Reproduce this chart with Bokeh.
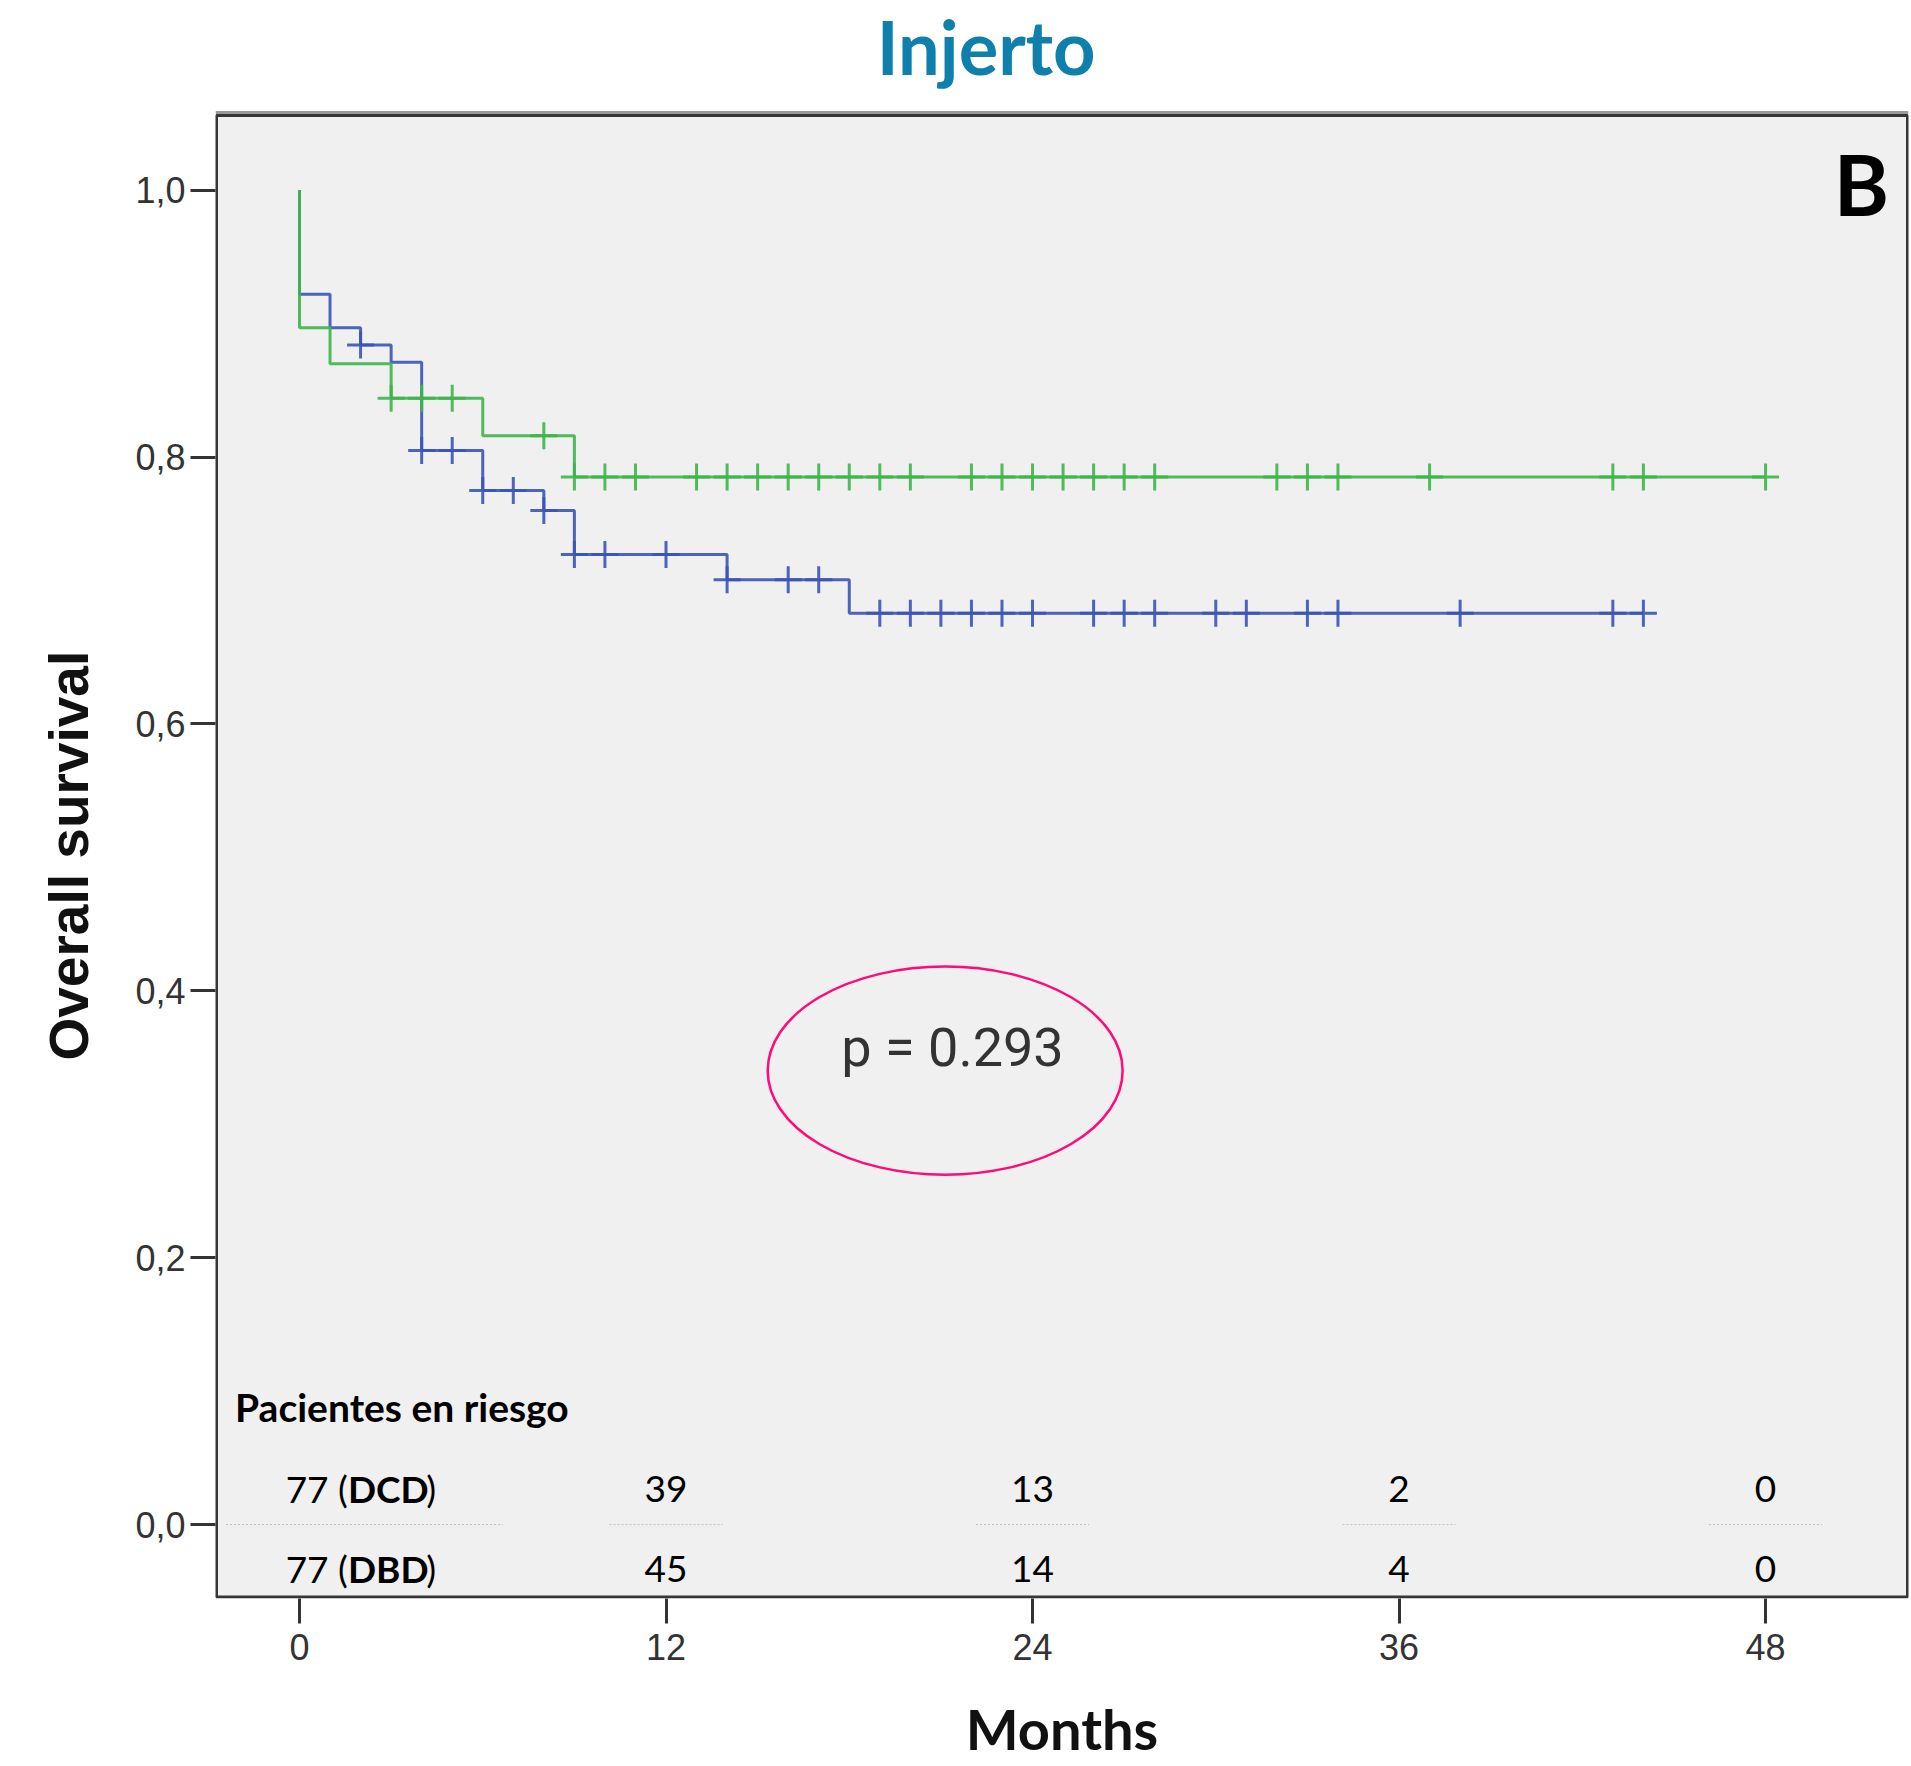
import numpy as np
from bokeh.plotting import figure
from bokeh.models import Range1d, FixedTicker, Label, Title
from bokeh.core.properties import value
from bokeh.embed import file_html
from bokeh.resources import INLINE

# ---------------- data ----------------
blue_event_times = [0, 1, 2, 3, 4, 6, 8, 9, 14, 18]
blue_survival = [0.922, 0.897, 0.884, 0.871, 0.805, 0.775, 0.760, 0.727, 0.708, 0.683]
blue_censor_times = [2, 4, 5, 6, 7, 8, 9, 10, 12, 14, 16, 17, 19, 20, 21, 22, 23, 24,
                     26, 27, 28, 30, 31, 33, 34, 38, 43, 44]
blue_end = 44

green_event_times = [0, 1, 3, 6, 9]
green_survival = [0.897, 0.870, 0.844, 0.816, 0.785]
green_censor_times = [3, 4, 5, 8, 9, 10, 11, 13, 14, 15, 16, 17, 18, 19, 20, 22, 23, 24,
                      25, 26, 27, 28, 32, 33, 34, 37, 43, 44, 48]
green_end = 48

x_ticks = [0, 12, 24, 36, 48]
y_ticks = [0.0, 0.2, 0.4, 0.6, 0.8, 1.0]
y_tick_labels = ["0,0", "0,2", "0,4", "0,6", "0,8", "1,0"]

risk_title = "Pacientes en riesgo"
risk_groups = ["DCD", "DBD"]
risk_start = [77, 77]
risk_times = [12, 24, 36, 48]
risk_counts = [[39, 13, 2, 0],   # DCD
               [45, 14, 4, 0]]   # DBD

title_text = "Injerto"
y_label = "Overall survival"
x_label = "Months"
p_text = "p = 0.293"
panel_letter = "B"

# ---------------- styling ----------------
GREEN = "#3db54a"
BLUE = "#3a54b4"
TITLE_COLOR = "#0f7fab"
PINK = "#ff0a78"

X0, X1 = -2.75, 52.68          # plotting box (data units)
Y0, Y1 = -0.0554, 1.056
PX_PER_Y = 1335.2
PX_PER_X = 30.54

# the frame reaches the top of the canvas so that the title can be drawn in it;
# the grey plotting box is drawn as a quad below
p = figure(width=1910, height=1764,
           x_range=Range1d(X0, X1), y_range=Range1d(Y0, Y0 + 1599 / PX_PER_Y),
           output_backend="svg", toolbar_location=None,
           min_border_left=215, min_border_right=2,
           min_border_top=0, min_border_bottom=165)

p.background_fill_color = "white"
p.border_fill_color = "white"
p.outline_line_color = None
p.grid.visible = False

# plotting box
inset_x = 1.0 / PX_PER_X
inset_y = 1.5 / PX_PER_Y
p.quad(left=[X0 + inset_x], right=[X1 - inset_x], bottom=[Y0 + inset_y], top=[Y1],
       fill_color="#f0f0f0", line_color="#363636", line_width=3, level="underlay")
# soft shadow on the top edge
p.segment(x0=[X0], y0=[Y1 + 3 / PX_PER_Y], x1=[X1], y1=[Y1 + 3 / PX_PER_Y],
          line_color="#9a9a9a", line_width=3, level="underlay")

# axes
for ax in (p.xaxis[0], p.yaxis[0]):
    ax.axis_line_color = None
    ax.major_tick_out = 25
    ax.major_tick_in = 0
    ax.minor_tick_out = 0
    ax.minor_tick_in = 0
    ax.major_tick_line_width = 3
    ax.major_tick_line_color = "#333333"
    ax.major_label_text_font = "Liberation Sans"
    ax.major_label_text_font_size = "36px"
    ax.major_label_text_color = "#333333"

p.xaxis.ticker = FixedTicker(ticks=x_ticks)
p.xaxis.major_label_standoff = 10
p.xaxis.axis_label = x_label
p.xaxis.axis_label_text_font = "Lato"
p.xaxis.axis_label_text_font_style = "bold"
p.xaxis.axis_label_text_font_size = "56px"
p.xaxis.axis_label_text_color = "#111111"
p.xaxis.axis_label_standoff = 32

p.yaxis.ticker = FixedTicker(ticks=y_ticks)
p.yaxis.major_label_overrides = {t: s for t, s in zip(y_ticks, y_tick_labels)}
p.yaxis.major_label_standoff = 5

# y label as a left-side title so it can be centred on the plotting box
p.add_layout(Title(text=y_label, align="left", offset=538, vertical_align="bottom",
                   standoff=65, text_font="Liberation Sans", text_font_style="bold",
                   text_font_size="55px", text_color="#111111"), "left")


def step_xy(times, surv, end):
    xs = [0.0] + list(times) + [end]
    ys = [1.0] + list(surv) + [surv[-1]]
    return xs, ys


def censor_y(times, surv, ctimes):
    idx = np.searchsorted(np.array(times, dtype=float), np.array(ctimes, dtype=float), side="right") - 1
    s = np.array(surv)
    return [1.0 if i < 0 else float(s[i]) for i in idx]


for times, surv, end, ctimes, col in [
    (blue_event_times, blue_survival, blue_end, blue_censor_times, BLUE),
    (green_event_times, green_survival, green_end, green_censor_times, GREEN),
]:
    xs, ys = step_xy(times, surv, end)
    p.step(xs, ys, mode="after", line_color=col, line_width=3, line_alpha=0.9)
    p.scatter(ctimes, censor_y(times, surv, ctimes), marker="cross", size=27,
              line_color=col, line_width=3, line_alpha=0.9)

# title
p.text(x=[22.48], y=[1.1077], text=[title_text], text_font=value("Lato"),
       text_font_style="bold", text_font_size="74px", text_color=TITLE_COLOR,
       text_align="center", text_baseline="middle")

# p-value and ellipse
p.ellipse(x=[21.14], y=[0.3402], width=[11.62], height=[0.156],
          fill_color=None, line_color=PINK, line_width=2.5)
p.text(x=[21.38], y=[0.3573], text=[p_text], text_font=value("Roboto"),
       text_font_size="54px", text_color="#333333", text_align="center",
       text_baseline="middle")

# panel letter
p.add_layout(Label(x=52.04, y=1.005, text=panel_letter, text_font="Lato",
                   text_font_style="bold", text_font_size="84px", text_color="black",
                   text_align="right", text_baseline="middle"))

# risk table
row_y = [0.0270, -0.0330]
p.text(x=[-2.11], y=[0.0880], text=[risk_title], text_font=value("Lato"),
       text_font_style="bold", text_font_size="39px", text_color="black",
       text_align="left", text_baseline="middle")
for g, n0, counts, yy in zip(risk_groups, risk_start, risk_counts, row_y):
    p.text(x=[1.585], y=[yy], text=[f"{n0} ("], text_font=value("Lato"),
           text_font_size="37px", text_color="black", text_align="right",
           text_baseline="middle")
    p.text(x=[1.585], y=[yy], text=[g], text_font=value("Lato"), text_font_style="bold",
           text_font_size="37px", text_color="black", text_align="left",
           text_baseline="middle")
    p.text(x=[4.15], y=[yy], text=[")"], text_font=value("Lato"),
           text_font_size="37px", text_color="black", text_align="left",
           text_baseline="middle")
    p.text(x=risk_times, y=[yy] * len(risk_times), text=[str(c) for c in counts],
           text_font=value("Lato"), text_font_size="37px", text_color="black",
           text_align="center", text_baseline="middle")

# dotted separators between the two rows
sep_x0 = [-2.4] + [t - 1.85 for t in risk_times]
sep_x1 = [6.66] + [t + 1.85 for t in risk_times]
p.segment(x0=sep_x0, y0=[0.0] * len(sep_x0), x1=sep_x1, y1=[0.0] * len(sep_x1),
          line_color="#bdbdbd", line_width=1, line_dash="2 2")

open("out.html", "w").write(file_html(p, INLINE))
